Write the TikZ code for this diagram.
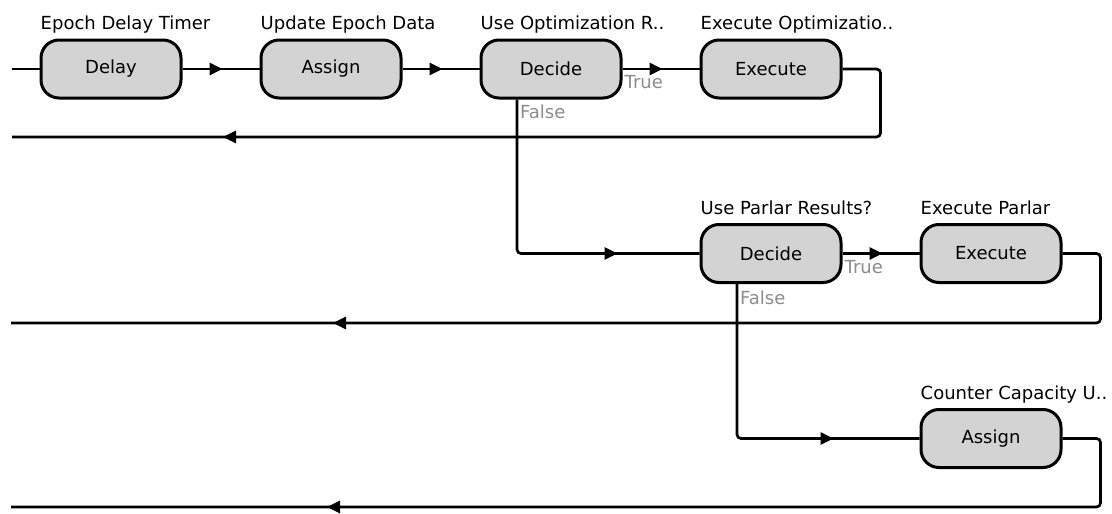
\documentclass[tikz,border=0pt]{standalone}
\usepackage{fontspec}
\setmainfont{DejaVu Sans}
\usetikzlibrary{arrows.meta, positioning, decorations.markings}
\definecolor{boxgray}{RGB}{211,211,211}
\definecolor{lblgray}{RGB}{140,140,140}
\tikzset{
  blockbox/.style={rectangle, rounded corners=18pt, draw=black, line width=3pt, fill=boxgray, minimum width=140pt, minimum height=58pt, inner sep=0pt},
  flowline/.style={line width=2.7pt, rounded corners=4pt},
  midarr/.style={decoration={markings, mark=at position #1 with {\arrow{Triangle[length=13pt,width=12pt]}}}, postaction={decorate}},
  boxtitle/.style={anchor=base west, inner sep=0pt},
  branch/.style={anchor=base west, inner sep=0pt, text=lblgray},
}
\begin{document}
\begin{tikzpicture}[x=1pt, y=-1pt, node distance=77pt, font=\fontsize{18}{21}\selectfont]
\useasboundingbox (0,0) rectangle (1112,514);
\node[blockbox] (delay) at (111,69) {Delay};
\node[blockbox, right=of delay] (assign) {Assign};
\node[blockbox, right=of assign] (dec1) {Decide};
\node[blockbox, right=of dec1] (exe1) {Execute};
\node[blockbox, below=123.5pt of exe1] (dec2) {Decide};
\node[blockbox, right=of dec2] (exe2) {Execute};
\node[blockbox, below=124pt of exe2] (cap) {Assign};

\node[boxtitle] (t-delay) at ([xshift=1pt,yshift=9pt]delay.north west) {Epoch Delay Timer};
\node[boxtitle] (t-assign) at ([xshift=1pt,yshift=9pt]assign.north west) {Update Epoch Data};
\node[boxtitle] (t-dec1) at ([xshift=1pt,yshift=9pt]dec1.north west) {Use Optimization R..};
\node[boxtitle] (t-exe1) at ([xshift=1pt,yshift=9pt]exe1.north west) {Execute Optimizatio..};
\node[boxtitle] (t-dec2) at ([xshift=1pt,yshift=9pt]dec2.north west) {Use Parlar Results?};
\node[boxtitle] (t-exe2) at ([xshift=1pt,yshift=9pt]exe2.north west) {Execute Parlar};
\node[boxtitle] (t-cap) at ([xshift=1pt,yshift=9pt]cap.north west) {Counter Capacity U..};

\node[branch] (true1) at ([xshift=2pt,yshift=-19pt]dec1.east) {True};
\node[branch] (false1) at ([xshift=-31pt,yshift=-19pt]dec1.south) {False};
\node[branch] (true2) at ([xshift=2pt,yshift=-20pt]dec2.east) {True};
\node[branch] (false2) at ([xshift=-31pt,yshift=-20pt]dec2.south) {False};

\coordinate (in) at (12,69);
\coordinate (ret1) at (12,137);
\coordinate (ret2) at (11,323);
\coordinate (ret3) at (11,507);

\draw[flowline] (in) -- (delay);
\foreach \x/\y in {delay/assign,assign/dec1,dec1/exe1,dec2/exe2} \draw[flowline, midarr=40pt] (\x) -- (\y);
\draw[flowline, midarr=-82pt] ([xshift=-34pt]dec1.south) |- (dec2.west);
\draw[flowline, midarr=-86pt] ([xshift=-34pt]dec2.south) |- (cap.west);
\draw[flowline, midarr=-211pt] (exe1.east) -- ++(38,0) |- (ret1);
\draw[flowline, midarr=-322pt] (exe2.east) -- ++(38,0) |- (ret2);
\draw[flowline, midarr=-316pt] (cap.east) -- ++(38,0) |- (ret3);
\end{tikzpicture}
\end{document}
